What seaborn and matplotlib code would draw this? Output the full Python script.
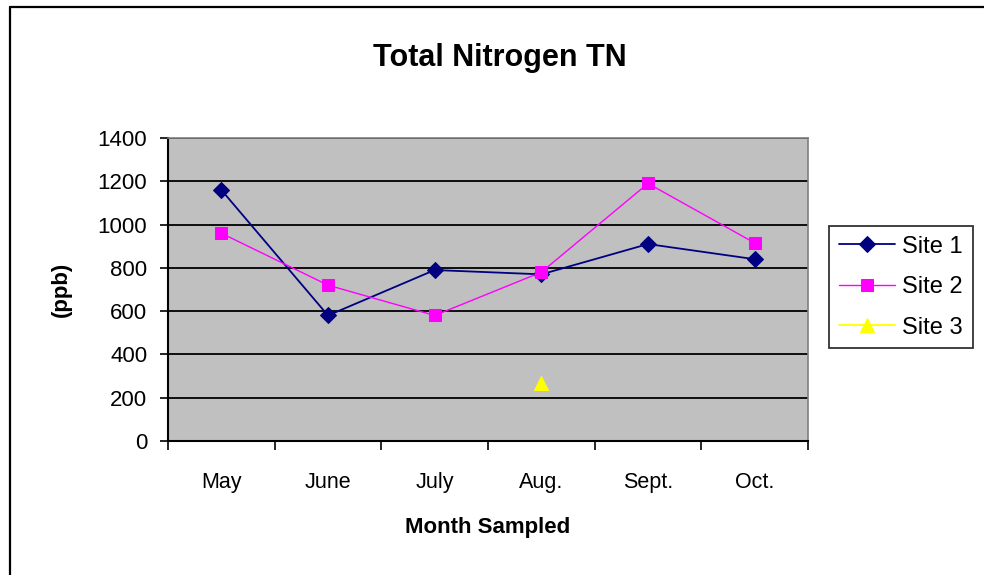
import numpy as np
import pandas as pd
import matplotlib
matplotlib.use('Agg')
import matplotlib.pyplot as plt
from matplotlib.lines import Line2D
import seaborn as sns

months = ['May', 'June', 'July', 'Aug.', 'Sept.', 'Oct.']
site1 = [1160, 580, 790, 770, 910, 840]
site2 = [960, 720, 580, 780, 1190, 915]
site3 = [np.nan, np.nan, np.nan, 270, np.nan, np.nan]
yticks = [0, 200, 400, 600, 800, 1000, 1200, 1400]

sns.set_style('ticks')
plt.rcParams['font.family'] = ['Liberation Sans', 'DejaVu Sans']
plt.rcParams['text.color'] = 'black'
plt.rcParams['axes.labelcolor'] = 'black'
plt.rcParams['xtick.color'] = 'black'
plt.rcParams['ytick.color'] = 'black'

pos = np.arange(len(months))
df = pd.DataFrame({'pos': pos, 'Site 1': site1, 'Site 2': site2, 'Site 3': site3})

fig = plt.figure(figsize=(9.84, 5.75), dpi=100)
ax = fig.add_axes([168/984, 1-441/575, 640/984, 303/575])
ax.set_facecolor('#C0C0C0')

sns.lineplot(data=df, x='pos', y='Site 1', ax=ax, color='#000080', marker='D',
             markersize=8, markeredgecolor='#000080', linewidth=1.3, label='Site 1')
sns.lineplot(data=df, x='pos', y='Site 2', ax=ax, color='#FF00FF', marker='s',
             markersize=8.5, markeredgecolor='#FF00FF', linewidth=1.0, label='Site 2')
sns.lineplot(data=df.dropna(subset=['Site 3']), x='pos', y='Site 3', ax=ax, color='#FFFF00', marker='^',
             markersize=10, markeredgecolor='#FFFF00', linewidth=1.3, label='Site 3')

ax.set_xlim(-0.5, len(months) - 0.5)
ax.set_ylim(0, 1400)
ax.set_yticks(yticks)
ax.set_yticklabels([str(v) for v in yticks], fontsize=16)
ax.yaxis.grid(True, color='black', linewidth=1.3)
ax.set_axisbelow(True)

ax.set_xticks(np.arange(len(months) + 1) - 0.5)
ax.set_xticklabels([])
ax.set_xticks(pos, minor=True)
ax.set_xticklabels(months, minor=True, fontsize=15.5)
ax.tick_params(axis='x', which='major', direction='out', length=6.5, width=1.2, color='black')
ax.tick_params(axis='x', which='minor', length=0, pad=22)
ax.tick_params(axis='y', direction='out', length=6, width=1.2, color='black', pad=9)

for side in ['left', 'bottom']:
    ax.spines[side].set_color('black')
    ax.spines[side].set_linewidth(1.5)
for side in ['top', 'right']:
    ax.spines[side].set_visible(True)
    ax.spines[side].set_color('#808080')
    ax.spines[side].set_linewidth(1.2)

ax.set_xlabel('Month Sampled', fontsize=16, fontweight='bold')
ax.xaxis.set_label_coords(0.5, -0.25)
ax.set_ylabel('(ppb)', fontsize=16, fontweight='bold')
ax.yaxis.set_label_coords(-0.15, 0.5)

fig.text(500/984, 1-58/575, 'Total Nitrogen TN', fontsize=22, fontweight='bold',
         ha='center', va='center')

handles, labels = ax.get_legend_handles_labels()
ax.get_legend().remove()
leg = fig.legend(handles, labels, loc='upper left', bbox_to_anchor=(829/984, 1-226/575),
                 fontsize=17, frameon=True, fancybox=False, shadow=False,
                 handlelength=2.4, labelspacing=0.78, borderpad=0.41, handletextpad=0.3,
                 borderaxespad=0)
leg.get_frame().set_edgecolor('black')
leg.get_frame().set_linewidth(1.3)

# outer chart border (left and top edges only are visible)
fig.add_artist(Line2D([9.5/984, 9.5/984], [0, 1-6.5/575], color='black', linewidth=1.6))
fig.add_artist(Line2D([9.5/984, 1], [1-6.5/575, 1-6.5/575], color='black', linewidth=1.6))

fig.savefig('out.png', dpi=100, facecolor='white')
